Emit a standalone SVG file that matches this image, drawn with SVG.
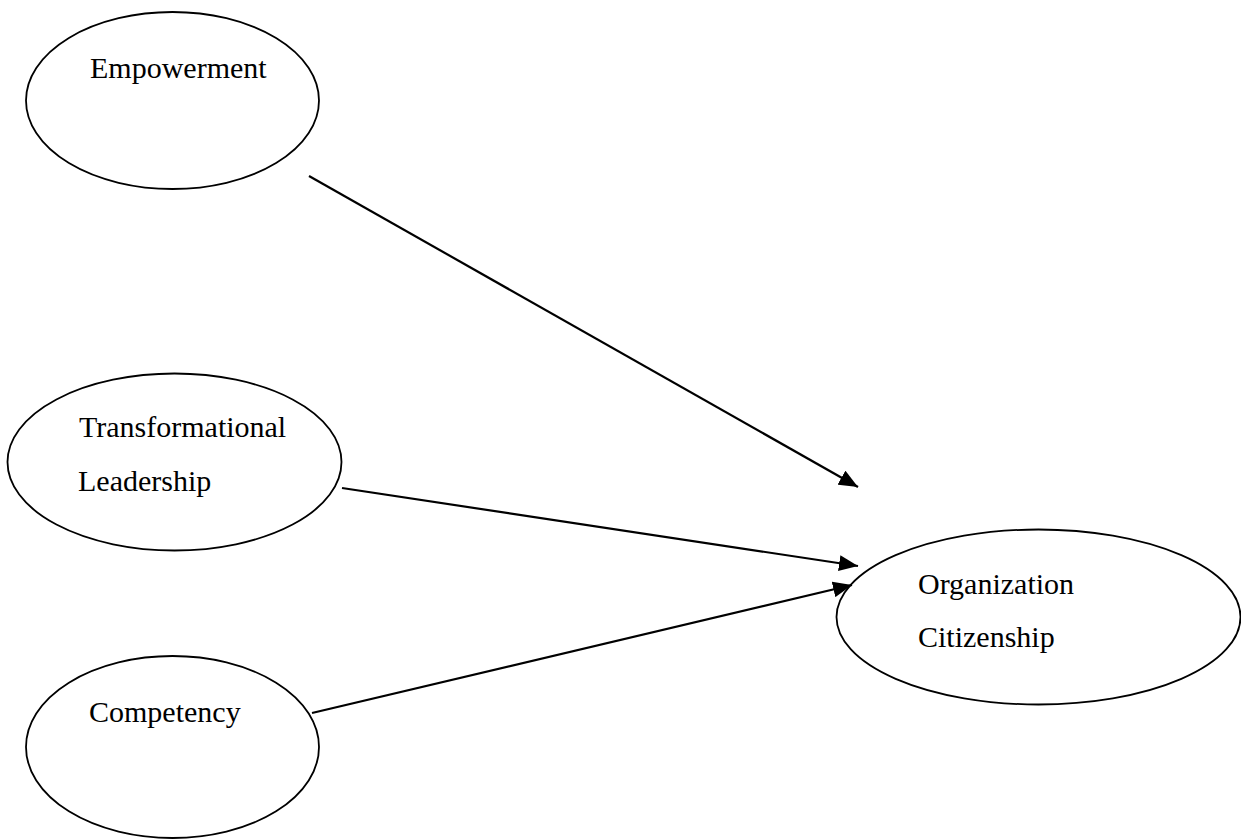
<svg xmlns="http://www.w3.org/2000/svg" width="1241" height="840" viewBox="0 0 1241 840">
<style>
.node{fill:#fff;stroke:#000;stroke-width:1.8}
.lbl{font-family:"Liberation Serif","Times New Roman",serif;font-size:30px;fill:#000}
.edge{stroke:#000;stroke-width:2.2;fill:none}
</style>
<defs>
<marker id="ah" markerUnits="userSpaceOnUse" markerWidth="20" markerHeight="16" refX="19" refY="8" orient="auto">
<path d="M0,0 L19,8 L0,16 Z" fill="#000"/>
</marker>
</defs>
<rect width="1241" height="840" fill="#fff"/>
<g id="empowerment">
<ellipse class="node" cx="172.5" cy="100.5" rx="146.5" ry="88.5"/>
<text class="lbl" x="90" y="78">Empowerment</text>
</g>
<g id="transformational">
<ellipse class="node" cx="174.5" cy="462" rx="167" ry="88.5"/>
<text class="lbl" x="79" y="437">Transformational</text>
<text class="lbl" x="78" y="491">Leadership</text>
</g>
<g id="competency">
<ellipse class="node" cx="172.5" cy="747" rx="146.5" ry="91"/>
<text class="lbl" x="89" y="722">Competency</text>
</g>
<g id="organization">
<ellipse class="node" cx="1038.5" cy="617" rx="202" ry="87.5"/>
<text class="lbl" x="918" y="594">Organization</text>
<text class="lbl" x="918" y="647">Citizenship</text>
</g>
<g id="connectors">
<line class="edge" x1="309" y1="176" x2="858" y2="487" marker-end="url(#ah)"/>
<line class="edge" x1="342" y1="488" x2="858" y2="566" marker-end="url(#ah)"/>
<line class="edge" x1="312" y1="713" x2="852" y2="585" marker-end="url(#ah)"/>
</g>
</svg>
